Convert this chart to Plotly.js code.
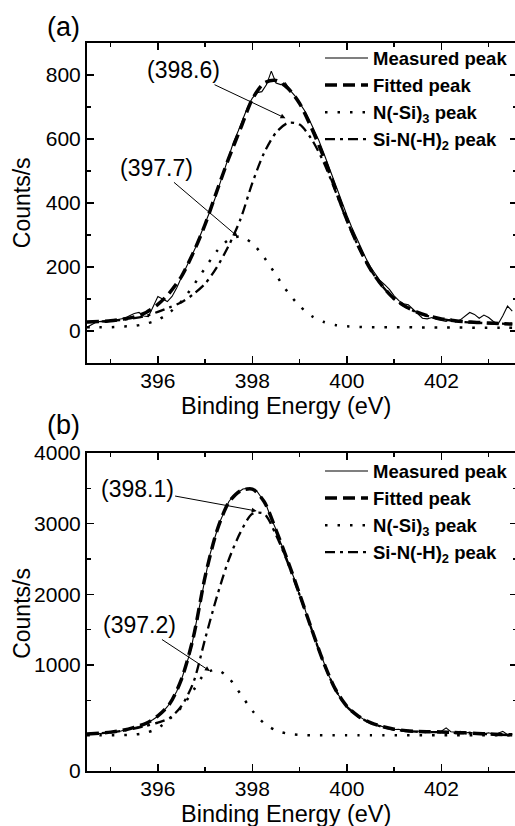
<!DOCTYPE html>
<html><head><meta charset="utf-8">
<script src="https://cdn.plot.ly/plotly-3.0.1.min.js"></script>
<style>html,body{margin:0;padding:0;overflow:hidden;background:#fff;}#chart{width:530px;height:826px;}</style>
</head><body><div id="chart"></div>
<script>
// ---------- data ----------
const energyMeas = [394.5,394.6,394.7,394.8,394.9,
 395.0,395.1,395.2,395.3,395.4,395.5,395.6,395.7,395.8,395.9,
 396.0,396.1,396.2,396.3,396.4,396.5,396.6,396.7,396.8,396.9,
 397.0,397.1,397.2,397.3,397.4,397.5,397.6,397.7,397.8,397.9,
 398.0,398.1,398.2,398.3,398.4,398.5,398.6,398.7,398.8,398.9,
 399.0,399.1,399.2,399.3,399.4,399.5,399.6,399.7,399.8,399.9,
 400.0,400.1,400.2,400.3,400.4,400.5,400.6,400.7,400.8,400.9,
 401.0,401.1,401.2,401.3,401.4,401.5,401.6,401.7,401.8,401.9,
 402.0,402.1,402.2,402.3,402.4,402.5,402.6,402.7,402.8,402.9,
 403.0,403.1,403.2,403.3,403.4,403.5];
const energyFit = [394.5,394.75,395,395.25,395.5,395.75,396,396.25,396.5,396.75,397,397.25,397.5,397.75,398,398.25,398.5,398.75,399,399.25,399.5,399.75,400,400.25,400.5,400.75,401,401.25,401.5,401.75,402,402.25,402.5,402.75,403,403.25,403.5];

// panel (a)
const measuredA = [12,20,28,30,27,
 32,34,36,40,48,55,58,47,45,75,
 108,100,92,108,135,168,200,228,262,300,
 335,372,410,455,500,545,590,625,665,700,
 728,745,748,770,812,775,770,775,752,735,
 712,690,662,630,598,560,520,478,440,400,
 362,325,292,258,228,200,178,158,145,130,
 110,95,85,82,68,55,40,38,42,36,
 32,30,38,28,35,48,58,52,40,50,
 42,30,22,48,78,62];
const fittedA = [28,30,32,37,44,58,83,120,171,245,333,438,540,633,725,775,783,759,711,635,547,447,348,263,193,141,101,76,58,46,38,33,29,27,25,23,22];
const nSiA = [12,12,12,14,16,23,35,58,93,142,197,250,285,295,274,230,175,121,78,47,29,19,15,13,12,12,12,12,11,11,11,11,11,10,10,10,10];
const siNHA = [28,30,32,35,40,47,60,74,90,115,148,200,267,350,463,557,620,650,645,600,530,440,345,262,192,140,100,75,57,45,37,32,28,26,24,23,22];

// panel (b)
const measuredB = [25,18,32,30,42,
 45,58,62,82,95,115,130,158,190,228,
 275,335,410,505,630,795,990,1215,1560,1905,
 2240,2560,2790,3010,3160,3310,3395,3440,3490,3500,
 3480,3455,3360,3250,3070,2920,2730,2570,2370,2200,
 1990,1820,1600,1430,1220,1060,870,745,595,510,
 410,360,290,255,210,190,155,142,115,110,
 88,90,70,75,58,66,52,60,48,58,
 62,110,55,48,60,35,50,30,42,28,
 40,20,35,62,15,18];
const fittedB = [22,35,50,75,118,175,280,450,800,1390,2250,2900,3300,3465,3490,3310,2910,2470,2000,1515,1050,665,415,272,185,129,92,71,60,56,52,45,40,32,25,18,12];
const nSiB = [5,5,6,8,16,42,106,237,400,640,879,931,815,589,352,176,74,28,11,6,5,5,5,5,5,5,5,5,5,5,5,5,5,5,5,5,5];
const siNHB = [22,34,46,68,100,140,185,250,420,750,1370,1970,2490,2880,3140,3140,2840,2445,1990,1510,1045,660,410,267,180,124,87,66,55,51,47,40,35,27,20,13,8];

const seriesNames = ["Measured peak", "Fitted peak", "N(-Si)<sub>3</sub> peak", "Si-N(-H)<sub>2</sub> peak"];
const panelLabels = ["(a)", "(b)"];
const xTitle = "Binding Energy (eV)";
const yTitle = "Counts/s";
const xTickVals = [396, 398, 400, 402];
const yTickValsA = [0, 200, 400, 600, 800];
const yTickValsB = [-500, 1000, 2000, 3000, 4000];
const yTickTextB = ["0", "1000", "2000", "3000", "4000"];
// peak labels: [text, label centre x, label centre y, arrow head x, arrow head y]
const peakNotesA = [["(398.6)", 396.55, 815, 398.7, 665],
                    ["(397.7)", 395.98, 510, 397.69, 295]];
const peakNotesB = [["(398.1)", 395.56, 3490, 398.09, 3179],
                    ["(397.2)", 395.62, 1566, 397.10, 915]];

// ---------- styling ----------
const FONT = "Liberation Sans, Arial, Helvetica, sans-serif";
const styles = [
  {width: 1.1, dash: "solid", shape: "linear"},
  {width: 3.5, dash: "12px,6px", shape: "spline"},
  {width: 2.5, dash: "2.5px,10px", shape: "spline"},
  {width: 2.3, dash: "10px,5px,3px,5px", shape: "spline"}
];

function panelTraces(xa, ya, legendId, meas, fit, nsi, sinh) {
  const sets = [[energyMeas, meas], [energyFit, fit], [energyFit, nsi], [energyFit, sinh]];
  return sets.map((s, i) => ({
    type: "scatter", mode: "lines", x: s[0], y: s[1], name: seriesNames[i],
    xaxis: xa, yaxis: ya, legend: legendId,
    line: {color: "#000", width: styles[i].width, dash: styles[i].dash, shape: styles[i].shape, smoothing: 0.8},
    hoverinfo: "skip"
  }));
}

const data = [].concat(
  panelTraces("x", "y", "legend", measuredA, fittedA, nSiA, siNHA),
  panelTraces("x2", "y2", "legend2", measuredB, fittedB, nSiB, siNHB)
);

const xAxisBase = {
  range: [394.5, 403.6], tickmode: "array", tickvals: xTickVals,
  ticks: "inside", ticklen: 7, tickwidth: 1.5, tickcolor: "#000", ticklabelstandoff: -2,
  minor: {tickmode: "linear", tick0: 395, dtick: 2, ticks: "inside", ticklen: 4, tickwidth: 1.5, tickcolor: "#000"},
  showline: true, linewidth: 2, linecolor: "#000", mirror: "allticks",
  showgrid: false, zeroline: false,
  tickfont: {family: FONT, size: 21, color: "#000"}
};
const yAxisBase = {
  ticks: "inside", ticklen: 7, tickwidth: 1.5, tickcolor: "#000",
  showline: true, linewidth: 2, linecolor: "#000", mirror: "allticks",
  showgrid: false, zeroline: false,
  tickfont: {family: FONT, size: 21, color: "#000"}
};

const annotations = [];
function addNotes(notes, xr, yr) {
  notes.forEach(n => {
    annotations.push({xref: xr, yref: yr, x: n[3], y: n[4], axref: xr, ayref: yr, ax: n[1], ay: n[2],
      text: n[0], showarrow: true, arrowhead: 2, arrowsize: 1, arrowwidth: 1, arrowcolor: "#000",
      standoff: 0, font: {family: FONT, size: 23, color: "#000"}});
  });
}
addNotes(peakNotesA, "x", "y");
addNotes(peakNotesB, "x2", "y2");

// panel letters and axis titles
const textAnn = [
  [panelLabels[0], -0.0535, 1.022, 27, 0],
  [panelLabels[1], -0.0535, 0.4753, 27, 0],
  [yTitle, -0.151, 0.780, 23, -90],
  [yTitle, -0.151, 0.216, 23, -90],
  [xTitle, 0.4628, 0.5014, 23.5, 0],
  [xTitle, 0.4628, -0.0591, 23.5, 0]
];
textAnn.forEach(t => annotations.push({xref: "paper", yref: "paper", x: t[1], y: t[2], text: t[0],
  showarrow: false, textangle: t[4], xanchor: "center", yanchor: "middle",
  font: {family: FONT, size: t[3], color: "#000"}}));

const legendBase = {
  xanchor: "left", yanchor: "top", x: 0.5419, bgcolor: "rgba(0,0,0,0)", borderwidth: 0,
  font: {family: FONT, size: 18.5, color: "#000", weight: "bold"}, itemwidth: 43, tracegroupgap: 0,
  itemclick: false, itemdoubleclick: false
};

const layout = {
  width: 530, height: 826,
  margin: {l: 87, r: 13, t: 43, b: 55},
  paper_bgcolor: "#fff", plot_bgcolor: "#fff",
  showlegend: true,
  legend: Object.assign({}, legendBase, {y: 1.0048}),
  legend2: Object.assign({}, legendBase, {y: 0.4375}),
  xaxis: Object.assign({}, xAxisBase, {anchor: "y"}),
  xaxis2: Object.assign({}, xAxisBase, {anchor: "y2"}),
  yaxis: Object.assign({}, yAxisBase, {domain: [0.5604, 1], range: [-100, 900], tickmode: "array", tickvals: yTickValsA,
    minor: {tickmode: "linear", tick0: 100, dtick: 200, ticks: "inside", ticklen: 4, tickwidth: 1.5, tickcolor: "#000"}}),
  yaxis2: Object.assign({}, yAxisBase, {domain: [0, 0.4368], range: [-500, 4000], tickmode: "array",
    tickvals: yTickValsB, ticktext: yTickTextB,
    minor: {tickmode: "linear", tick0: 500, dtick: 1000, ticks: "inside", ticklen: 4, tickwidth: 1.5, tickcolor: "#000"}}),
  annotations: annotations
};

Plotly.newPlot("chart", data, layout, {staticPlot: true, displayModeBar: false});
</script></body></html>
